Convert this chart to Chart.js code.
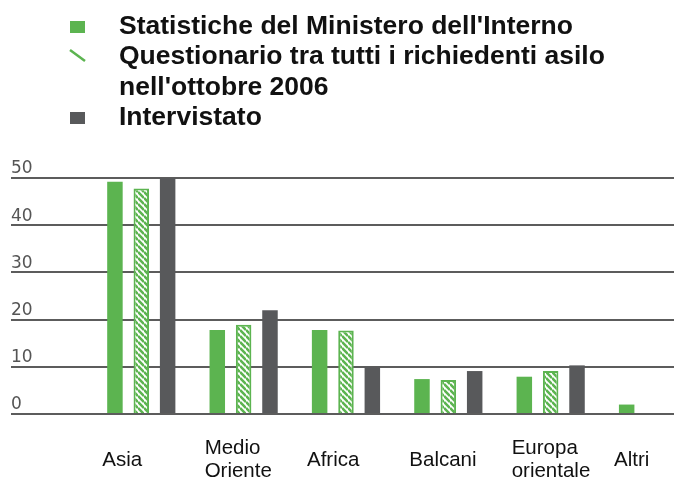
<!DOCTYPE html>
<html lang="it">
<head>
<meta charset="utf-8">
<title>Richiedenti asilo per regione di provenienza</title>
<script src="https://cdn.jsdelivr.net/npm/chart.js@4.4.1/dist/chart.umd.min.js"></script>
<style>
  html, body { margin: 0; padding: 0; background: #fff; }
  #wrap { position: relative; width: 674px; height: 481px; }
  #chart { position: absolute; left: 0; top: 0; }
  #legend {
    position: absolute; left: 0; top: 9.6px; margin: 0; padding: 0; list-style: none; z-index: 1;
    font: bold 26.5px/30.5px "Liberation Sans", Arial, sans-serif; color: #111;
  }
  #legend li { position: relative; padding-left: 119px; white-space: pre-line; cursor: pointer; }
  #legend li.off { color: #aaa; }
  #legend .box { position: absolute; left: 70px; top: 11.4px; width: 15px; height: 12px; }
  #legend svg { position: absolute; left: 68px; top: 8px; }
</style>
</head>
<body>
<div id="wrap">
  <ul id="legend"></ul>
  <canvas id="chart" width="674" height="481"></canvas>
</div>
<script>
const categories = ["Asia", "Medio Oriente", "Africa", "Balcani", "Europa orientale", "Altri"];
const tickLabels = ["Asia", ["Medio", "Oriente"], "Africa", "Balcani", ["Europa", "orientale"], "Altri"];
const seriesNames = [
    "Statistiche del Ministero dell'Interno",
    "Questionario tra tutti i richiedenti asilo\nnell'ottobre 2006",
    "Intervistato"
];
const ministero = [49.2, 17.8, 17.8, 7.4, 7.9, 2.0];
const questionario = [47.8, 18.9, 17.7, 7.2, 9.1, null];
const intervistato = [50, 22, 10, 9.1, 10.3, null];
const yTicks = [0, 10, 20, 30, 40, 50];

const GREEN = "#5cb450";
const DARK = "#58595b";
const GRID = "#5c5c5c";

// white tile with green "\" stripes for the questionnaire bars
function makeHatch(color) {
    const size = 6;
    const tile = document.createElement("canvas");
    tile.width = size;
    tile.height = size;
    const c = tile.getContext("2d");
    c.fillStyle = "#fff";
    c.fillRect(0, 0, size, size);
    c.strokeStyle = color;
    c.lineWidth = 2.6;
    c.beginPath();
    for (let k = -1; k <= 1; k++) {
        c.moveTo(0, k * size);
        c.lineTo(size, size + k * size);
    }
    c.stroke();
    return c.createPattern(tile, "repeat");
}

function boxMarker(color) {
    const span = document.createElement("span");
    span.className = "box";
    span.style.background = color;
    return span;
}

function stripeMarker(color) {
    const holder = document.createElement("span");
    holder.innerHTML = '<svg width="20" height="16"><line x1="2" y1="2" x2="17" y2="13" stroke="' +
        color + '" stroke-width="2.5"/></svg>';
    return holder.firstChild;
}

// legend list above the plot, rebuilt on every update
const htmlLegend = {
    id: "htmlLegend",
    afterUpdate(chart) {
        const list = document.getElementById("legend");
        list.innerHTML = "";
        chart.data.datasets.forEach((ds, i) => {
            const li = document.createElement("li");
            if (!chart.isDatasetVisible(i)) li.className = "off";
            li.onclick = () => {
                chart.setDatasetVisibility(i, !chart.isDatasetVisible(i));
                chart.update();
            };
            li.appendChild(ds.markerStyle === "stripe" ? stripeMarker(ds.borderColor) : boxMarker(ds.backgroundColor));
            li.appendChild(document.createTextNode(ds.label));
            list.appendChild(li);
        });
    }
};

const toPoints = (values) => values.map((y, x) => ({ x, y }));

new Chart(document.getElementById("chart"), {
    type: "bar",
    data: {
        datasets: [
            {
                label: seriesNames[0],
                data: toPoints(ministero),
                backgroundColor: GREEN,
                borderWidth: 0
            },
            {
                label: seriesNames[1],
                data: toPoints(questionario),
                backgroundColor: makeHatch(GREEN),
                borderColor: GREEN,
                borderWidth: 2,
                markerStyle: "stripe"
            },
            {
                label: seriesNames[2],
                data: toPoints(intervistato),
                backgroundColor: DARK,
                borderWidth: 0
            }
        ]
    },
    options: {
        responsive: false,
        animation: false,
        categoryPercentage: 0.7724,
        barPercentage: 0.588,
        layout: {
            padding: { top: 178, left: 11, right: 0, bottom: 0 }
        },
        plugins: {
            legend: { display: false },
            tooltip: {
                callbacks: {
                    title: (items) => categories[items[0].parsed.x]
                }
            }
        },
        scales: {
            x: {
                type: "linear",
                offset: false,
                min: -1.273,
                max: 5.205,
                grid: { display: false, drawTicks: false },
                border: { display: false },
                afterBuildTicks: (scale) => {
                    scale.ticks = categories.map((_, i) => ({ value: i }));
                },
                afterFit: (scale) => {
                    scale.paddingLeft = 0;
                    scale.paddingRight = 0;
                    scale.height = 67;
                },
                ticks: {
                    autoSkip: false,
                    maxRotation: 0,
                    align: "start",
                    crossAlign: "center",
                    labelOffset: -39,
                    padding: 34.5,
                    color: "#111",
                    font: { family: "'Liberation Sans', Arial, sans-serif", size: 20.5, lineHeight: 1.12 },
                    callback: (value) => tickLabels[value]
                }
            },
            y: {
                min: yTicks[0],
                max: yTicks[yTicks.length - 1],
                grid: { color: GRID, lineWidth: 2, drawTicks: false },
                border: { display: false },
                afterBuildTicks: (scale) => {
                    scale.ticks = yTicks.map((value) => ({ value }));
                },
                ticks: {
                    mirror: true,
                    padding: 0,
                    labelOffset: -9,
                    color: "#555",
                    font: { family: "'DejaVu Sans', sans-serif", size: 17 }
                }
            }
        }
    },
    plugins: [htmlLegend]
});
</script>
</body>
</html>
